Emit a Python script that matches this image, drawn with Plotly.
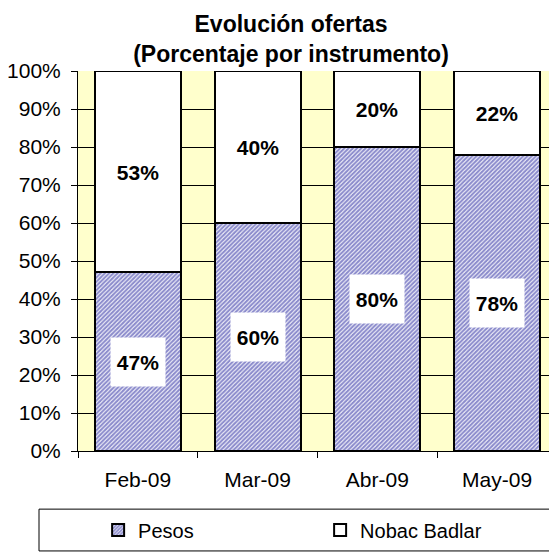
"""Evolución ofertas - porcentaje por instrumento."""

import plotly.graph_objects as go

months = ['Feb-09', 'Mar-09', 'Abr-09', 'May-09']
pesos = [47, 60, 80, 78]
nobac = [53, 40, 20, 22]

FONT = 'Liberation Sans, Arial, sans-serif'

fig = go.Figure()

fig.add_trace(go.Bar(
    x=months, y=pesos, name='Pesos', width=0.72,
    marker=dict(color='white', line=dict(color='black', width=2),
                pattern=dict(shape='/', fgcolor='#1a1a9a', bgcolor='white',
                             size=3, solidity=0.7)),
))
fig.add_trace(go.Bar(
    x=months, y=nobac, name='Nobac Badlar', width=0.72,
    marker=dict(color='white', line=dict(color='black', width=2)),
))

# value labels in white boxes, centred in each segment
for m, p, n in zip(months, pesos, nobac):
    for val, yc in ((p, p / 2), (n, p + n / 2)):
        fig.add_annotation(x=m, y=yc, text=f'<b>{val}%</b>', showarrow=False,
                           bgcolor='white', width=52, height=46,
                           font=dict(family=FONT, size=21, color='black'))

# frame around the legend
fig.add_shape(type='rect', xref='paper', yref='paper',
              x0=-0.0814, x1=0.996, y0=-0.263, y1=-0.153,
              line=dict(color='black', width=1), fillcolor='rgba(0,0,0,0)')

# page body adds an 8px offset, so the figure is 8px smaller than the window
fig.update_layout(
    barmode='stack',
    width=549, height=544,
    margin=dict(l=70, r=0, t=63, b=101),
    paper_bgcolor='white',
    plot_bgcolor='#ffffcc',
    font=dict(family=FONT, size=21, color='black'),
    title=dict(text='<b>Evolución ofertas<br>(Porcentaje por instrumento)</b>',
               x=0.5155, xanchor='center', y=0.956, yanchor='middle',
               font=dict(family=FONT, size=23, color='black')),
    showlegend=True,
    legend=dict(orientation='h', x=0.042, xanchor='left', y=-0.208, yanchor='middle',
                borderwidth=0, bgcolor='rgba(0,0,0,0)', entrywidth=177,
                font=dict(family=FONT, size=20, color='black'),
                traceorder='normal'),
)

fig.update_xaxes(range=[-0.5, 3.5], showgrid=False, ticks='outside', ticklen=6,
                 tickson='boundaries', tickcolor='black', ticklabelstandoff=10,
                 showline=True, linecolor='black', linewidth=1,
                 tickfont=dict(size=21))
fig.update_yaxes(range=[0, 100], dtick=10, ticksuffix='%', showgrid=True,
                 gridcolor='black', gridwidth=1, ticks='outside', ticklen=6,
                 tickcolor='black', ticklabelstandoff=6, showline=True,
                 linecolor='black', linewidth=1, zeroline=False,
                 tickfont=dict(size=21))

fig.write_html('out.html')
